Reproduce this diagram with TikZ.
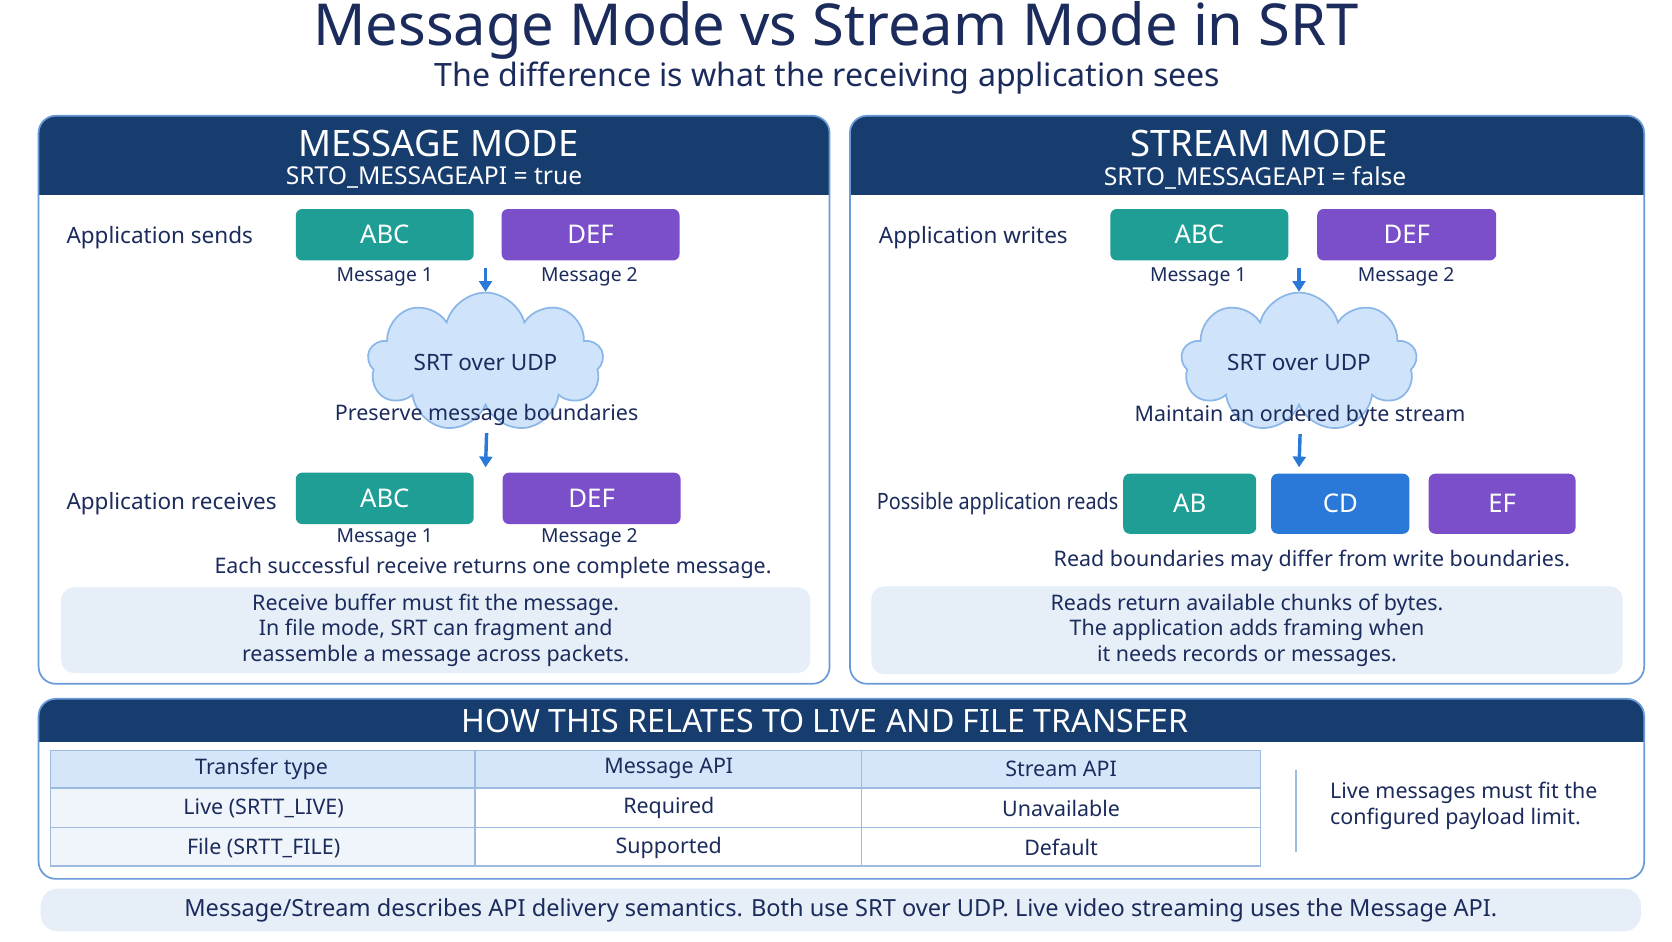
\documentclass[tikz,border=0pt]{standalone}
\usepackage{fontspec}
\setmainfont{Noto Sans}
\usetikzlibrary{shapes.symbols,arrows.meta}
\definecolor{navy}{HTML}{1B2B5C}
\definecolor{hdr}{HTML}{163D6E}
\definecolor{bord}{HTML}{6A9BD8}
\definecolor{teal}{HTML}{1E9E94}
\definecolor{purp}{HTML}{7B4FC9}
\definecolor{blu}{HTML}{2A78D8}
\definecolor{notef}{HTML}{E6EEF8}
\definecolor{cloudf}{HTML}{CFE3FA}
\definecolor{cloudb}{HTML}{8BB6E8}
\definecolor{thf}{HTML}{D6E6FA}
\definecolor{tb}{HTML}{9BBBE0}
\begin{document}
\begin{tikzpicture}[x=0.5pt,y=-0.5pt,
  txt/.style={text=navy,font=\fontsize{10}{12}\selectfont},
  lbl/.style={text=navy,font=\fontsize{10.5}{12}\selectfont\bfseries,anchor=west},
  msg/.style={text=navy,font=\fontsize{9}{11}\selectfont},
  blk/.style={rounded corners=3pt,text=white,font=\fontsize{12}{14}\selectfont\bfseries,minimum height=24pt,inner sep=0pt},
  arr/.style={-{Triangle[length=5pt,width=6pt]},blu,line width=1.6pt},
  cl/.style={cloud,cloud puffs=9,aspect=2.6,fill=cloudf,draw=cloudb,line width=0.8pt,minimum width=110pt,minimum height=44pt,text=navy,font=\fontsize{10.5}{12}\selectfont\bfseries},
  note/.style={fill=notef,rounded corners=6pt,align=center,text=navy,font=\fontsize{10}{12}\selectfont,inner sep=0pt},
  htitle/.style={text=white,font=\fontsize{17}{20}\selectfont\bfseries},
  hsub/.style={text=white,font=\fontsize{11.5}{14}\selectfont},
  cell/.style={text=navy,font=\fontsize{10}{12}\selectfont},
  bcell/.style={text=navy,font=\fontsize{10}{12}\selectfont\bfseries}]
\useasboundingbox (0,0) rectangle (1560,878);
\fill[white] (0,0) rectangle (1560,878);
\node[text=navy,font=\fontsize{27}{30}\selectfont\bfseries] (title) at (780,28) {Message Mode vs Stream Mode in SRT};
\node[text=navy,font=\fontsize{15}{18}\selectfont\bfseries] (sub) at (772,73) {The difference is what the receiving application sees};
% panels
\foreach \xa/\xb in {36/774,793/1534}{
  \begin{scope}
  \clip[rounded corners=8pt] (\xa,108) rectangle (\xb,638);
  \fill[hdr] (\xa,108) rectangle (\xb,182);
  \end{scope}
  \draw[bord,line width=0.8pt,rounded corners=8pt] (\xa,108) rectangle (\xb,638);
}
% left
\node[htitle] (lt) at (409,134) {MESSAGE MODE};
\node[hsub] (ls) at (405,166) {SRTO\_MESSAGEAPI = true};
\node[lbl] (lsend) at (55,222) {Application sends};
\node[blk,fill=teal,minimum width=83pt] (labc) at (359,219) {ABC};
\node[blk,fill=purp,minimum width=83pt] (ldef) at (551,219) {DEF};
\node[msg] (lm1) at (359,258) {Message 1};
\node[msg] (lm2) at (550,258) {Message 2};
\node[cl] (lcl) at (453,338) {SRT over UDP};
\coordinate (la0) at (453,250);
\draw[arr] (la0) -- (lcl.north);
\node[txt] (lpres) at (454,387) {Preserve message boundaries};
\node[lbl] (lrec) at (55,470) {Application receives};
\node[blk,fill=teal,minimum width=83pt] (labc2) at (359,465) {ABC};
\node[blk,fill=purp,minimum width=83pt] (ldef2) at (552,465) {DEF};
\draw[arr] (lpres.south) -- (453,436);
\node[msg] (lm3) at (359,502) {Message 1};
\node[msg] (lm4) at (550,502) {Message 2};
\node[txt] (leach) at (460,530) {Each successful receive returns one complete message.};
\node[note,minimum width=349.5pt,minimum height=40pt] (lnote) at (406.5,588) {Receive buffer must fit the message.\\In file mode, SRT can fragment and\\reassemble a message across packets.};
% right
\node[htitle] (rt) at (1175,134) {STREAM MODE};
\node[hsub] (rs) at (1171,166) {SRTO\_MESSAGEAPI = false};
\node[lbl] (rw) at (813,222) {Application writes};
\node[blk,fill=teal,minimum width=83pt] (rabc) at (1119,219) {ABC};
\node[blk,fill=purp,minimum width=83.5pt] (rdef) at (1312.5,219) {DEF};
\node[msg] (rm1) at (1118,258) {Message 1};
\node[msg] (rm2) at (1312,258) {Message 2};
\node[cl] (rcl) at (1212,338) {SRT over UDP};
\coordinate (ra0) at (1212,250);
\draw[arr] (ra0) -- (rcl.north);
\node[txt] (rmain) at (1213,388) {Maintain an ordered byte stream};
\draw[arr] (rmain.south) -- (1212,436);
\node[lbl,font=\fontsize{10.5}{12}\selectfont\bfseries,xscale=0.88] (rposs) at (812,470) {Possible application reads};
\node[blk,fill=teal,minimum width=62pt,minimum height=28pt] (rab) at (1110,470) {AB};
\node[blk,fill=blu,minimum width=64.5pt,minimum height=28pt] (rcd) at (1250.5,470) {CD};
\node[blk,fill=purp,minimum width=68.5pt,minimum height=28pt] (ref) at (1401.5,470) {EF};
\node[txt] (rread) at (1224,523) {Read boundaries may differ from write boundaries.};
\node[note,minimum width=350.5pt,minimum height=41pt] (rnote) at (1163.5,588) {Reads return available chunks of bytes.\\The application adds framing when\\it needs records or messages.};
% bottom
\begin{scope}
\clip[rounded corners=8pt] (36,652) rectangle (1534,820);
\fill[hdr] (36,652) rectangle (1534,692);
\end{scope}
\draw[bord,line width=0.8pt,rounded corners=8pt] (36,652) rectangle (1534,820);
\node[text=white,font=\fontsize{15}{18}\selectfont\bfseries] (bt) at (770,673) {HOW THIS RELATES TO LIVE AND FILE TRANSFER};
\fill[thf] (47,700) rectangle (1176,735);
\fill[notef!60] (47,735) rectangle (443,808);
\draw[tb,line width=0.7pt] (47,700) rectangle (1176,808) (47,735) -- (1176,735) (47,772) -- (1176,772) (443,700) -- (443,808) (804,700) -- (804,808);
\node[bcell] (h1) at (244,717) {Transfer type};
\node[bcell] (h2) at (624,717) {Message API};
\node[bcell] (h3) at (990,717) {Stream API};
\node[bcell] (r1) at (246,754) {Live (SRTT\_LIVE)};
\node[cell] (r1b) at (624,754) {Required};
\node[cell] (r1c) at (990,754) {Unavailable};
\node[bcell] (r2) at (246,791) {File (SRTT\_FILE)};
\node[cell] (r2b) at (624,791) {Supported};
\node[cell] (r2c) at (990,791) {Default};
\draw[tb,line width=0.8pt] (1209,718) -- (1209,795);
\node[txt,anchor=west,align=left] (bn) at (1234,752) {Live messages must fit the\\configured payload limit.};
\node[fill=notef,rounded corners=8pt,minimum width=746.5pt,minimum height=20pt,text=navy,font=\fontsize{11}{13}\selectfont\bfseries] (foot) at (784.5,849) {Message/Stream describes API delivery semantics. Both use SRT over UDP. Live video streaming uses the Message API.};
\end{tikzpicture}
\end{document}
